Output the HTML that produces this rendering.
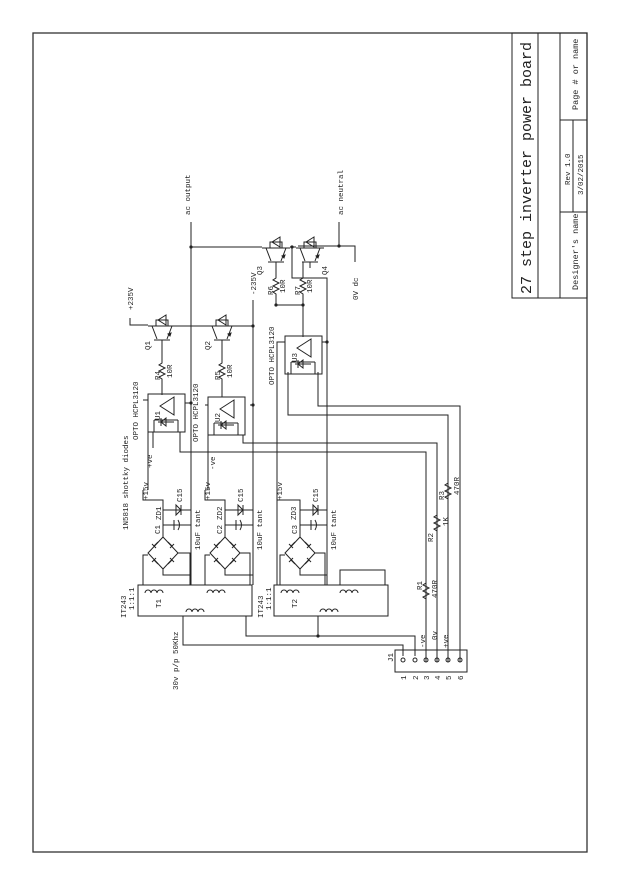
<!DOCTYPE html>
<html><head><meta charset="utf-8"><style>
html,body{margin:0;padding:0;background:#fff;}
svg{display:block;}
text{font-family:"Liberation Mono",monospace;fill:#222;}
</style></head><body>
<svg width="638" height="877" viewBox="0 0 638 877" xmlns="http://www.w3.org/2000/svg">
<defs>
<g id="igbt" fill="none" stroke="#222" stroke-width="1">
<path d="M0 8H28M8 8V2H20V8"/>
<path d="M10 2L18 -3V7Z"/>
<path d="M18 -2V6"/>
<path d="M6 22H22M4 8L9 21M24 8L19 21M14 22V28"/>
<path d="M20 16l3 -1l-1 3z" fill="#222"/>
</g>
<g id="res" fill="none" stroke="#222" stroke-width="1">
<path d="M0 0V3L-3 5L3 8L-3 11L3 14L-3 17L0 19V22"/>
</g>
<g id="opto" fill="none" stroke="#222" stroke-width="1">
<rect x="0" y="0" width="37" height="38"/>
<path d="M12 12L26 3L26 21Z"/>
<path d="M10 28H26M18 24l-5 4l5 4zM13 24V32"/>
<path d="M6 26V38M30 26V38M6 26H30"/>
</g>
<g id="bridge" fill="none" stroke="#222" stroke-width="1">
<path d="M0 -16L-15 0L0 16L15 0Z"/>
<path d="M-9 -7l4 -4M-7 -5l-4 -4M9 -7l-4 -4M7 -5l4 -4M-9 7l4 4M-7 5l-4 4M9 7l-4 4M7 5l4 4"/>
</g>
<g id="coil" fill="none" stroke="#222" stroke-width="1">
<path d="M0 0a3 3 0 0 1 6 0a3 3 0 0 1 6 0a3 3 0 0 1 6 0"/>
</g>
</defs>

<rect x="33" y="33" width="554" height="819" fill="none" stroke="#333" stroke-width="1.3"/>

<g fill="none" stroke="#222" stroke-width="1">
<rect x="512" y="33" width="75" height="265"/>
<line x1="538" y1="33" x2="538" y2="298"/>
<line x1="560" y1="33" x2="560" y2="298"/>
<line x1="560" y1="120" x2="587" y2="120"/>
<line x1="560" y1="212" x2="587" y2="212"/>
<line x1="573" y1="120" x2="573" y2="212"/>
</g>
<text transform="translate(531,294) rotate(-90)" font-size="15">27 step inverter power board</text>
<text transform="translate(578,290) rotate(-90)" font-size="8.5">Designer's name</text>
<text transform="translate(570,185) rotate(-90)" font-size="7.5">Rev 1.0</text>
<text transform="translate(583,195) rotate(-90)" font-size="7.5">3/02/2015</text>
<text transform="translate(578,110) rotate(-90)" font-size="8.5">Page # or name</text>

<g fill="none" stroke="#222" stroke-width="1">
<path d="M191 222V585"/>
<path d="M191 247H262"/>
<path d="M339 222V246H298"/>
<path d="M339 246H355V262"/>
<path d="M130 318V325H148"/>
<path d="M176 326H208M236 326H253V585"/>
<path d="M253 300V585"/>
<path d="M290 247H296M292 247V278H327V585"/>
<path d="M162 345V360M162 382V395"/>
<path d="M222 345V360M222 382V397"/>
<path d="M276 262V275M276 297V305H303M303 262V275M303 297V337"/>
<path d="M185 403H191M250 405H253M143 400H148V490M205 405H208V490"/>
<path d="M322 342H327M285 342H277V585"/>
<path d="M318 372V406H460V662"/>
<path d="M288 372V415H448V662"/>
<path d="M243 435V443H437V662"/>
<path d="M180 432V452H426V662"/>
<path d="M153 432V448"/>
<rect x="395" y="650" width="72" height="22"/>
<path d="M183 616V645H403V656M246 616V636H415V656"/>
<path d="M318 616V636"/>
<rect x="138" y="585" width="114" height="31"/>
<rect x="274" y="585" width="114" height="31"/>
<path d="M143 585V555H148M178 553H190V585M205 585V555H210M240 553H250V585"/>
<path d="M280 585V555H285M315 553H325V585M340 585V570H385V585"/>
<path d="M143 490V500H163V537M205 490V500H225V537M277 490V500H300V537"/>
<path d="M191 500V510M253 500V510M327 500V510"/>
<path d="M163 510H191M163 525H191M225 510H253M225 525H253M300 510H327M300 525H327"/>
<path d="M163 569V575H190M225 569V575H253M300 569V575H327"/>
<path d="M176 505l5 5l-5 5zM181 505V515"/>
<path d="M238 505l5 5l-5 5zM243 505V515"/>
<path d="M313 505l5 5l-5 5zM318 505V515"/>
<path d="M174 520V530M178 520q3 5 0 10M236 520V530M240 520q3 5 0 10M311 520V530M315 520q3 5 0 10"/>
</g>
<g fill="#222">
<circle cx="191" cy="247" r="1.6"/><circle cx="339" cy="246" r="1.6"/><circle cx="292" cy="247" r="1.6"/>
<circle cx="253" cy="326" r="1.6"/><circle cx="276" cy="305" r="1.6"/><circle cx="303" cy="305" r="1.6"/>
<circle cx="191" cy="403" r="1.6"/><circle cx="253" cy="405" r="1.6"/><circle cx="327" cy="342" r="1.6"/>
<circle cx="318" cy="636" r="1.6"/>
</g>
<g fill="none" stroke="#222"><circle cx="403" cy="660" r="2"/><circle cx="415" cy="660" r="2"/><circle cx="426" cy="660" r="2"/><circle cx="437" cy="660" r="2"/><circle cx="448" cy="660" r="2"/><circle cx="460" cy="660" r="2"/></g>

<use href="#igbt" x="148" y="318"/>
<use href="#igbt" x="208" y="318"/>
<use href="#igbt" x="262" y="240"/>
<use href="#igbt" x="296" y="240"/>
<use href="#res" x="162" y="360"/>
<use href="#res" x="222" y="360"/>
<use href="#res" x="276" y="275"/>
<use href="#res" x="303" y="275"/>
<use href="#opto" x="148" y="394"/>
<use href="#opto" x="208" y="397"/>
<use href="#opto" x="285" y="336"/>
<use href="#bridge" x="163" y="553"/>
<use href="#bridge" x="225" y="553"/>
<use href="#bridge" x="300" y="553"/>
<use href="#coil" x="145" y="593"/><use href="#coil" x="207" y="593"/>
<use href="#coil" x="281" y="593"/><use href="#coil" x="340" y="593"/>
<use href="#coil" x="186" y="612"/><use href="#coil" x="320" y="612"/>
<use href="#res" x="426" y="580"/>
<use href="#res" x="437" y="512"/>
<use href="#res" x="448" y="480"/>

<g font-size="7.5">
<text transform="translate(190,215) rotate(-90)">ac output</text>
<text transform="translate(343,215) rotate(-90)">ac neutral</text>
<text transform="translate(133,310) rotate(-90)">+235V</text>
<text transform="translate(256,295) rotate(-90)">-235V</text>
<text transform="translate(358,300) rotate(-90)">0V dc</text>
<text transform="translate(150,350) rotate(-90)">Q1</text>
<text transform="translate(210,350) rotate(-90)">Q2</text>
<text transform="translate(262,275) rotate(-90)">Q3</text>
<text transform="translate(327,275) rotate(-90)">Q4</text>
<text transform="translate(160,380) rotate(-90)">R4</text><text transform="translate(172,378) rotate(-90)">10R</text>
<text transform="translate(220,380) rotate(-90)">R5</text><text transform="translate(232,378) rotate(-90)">10R</text>
<text transform="translate(273,295) rotate(-90)">R6</text><text transform="translate(285,293) rotate(-90)">10R</text>
<text transform="translate(300,295) rotate(-90)">R7</text><text transform="translate(312,293) rotate(-90)">10R</text>
<text transform="translate(138,440) rotate(-90)">OPTO HCPL3120</text>
<text transform="translate(198,442) rotate(-90)">OPTO HCPL3120</text>
<text transform="translate(274,385) rotate(-90)">OPTO HCPL3120</text>
<text transform="translate(160,420) rotate(-90)">U1</text>
<text transform="translate(220,422) rotate(-90)">U2</text>
<text transform="translate(297,362) rotate(-90)">U3</text>
<text transform="translate(152,468) rotate(-90)">+ve</text>
<text transform="translate(215,470) rotate(-90)">-ve</text>
<text transform="translate(128,530) rotate(-90)">1N5818 shottky diodes</text>
<text transform="translate(148,500) rotate(-90)">+15v</text>
<text transform="translate(210,500) rotate(-90)">+15v</text>
<text transform="translate(282,500) rotate(-90)">+15v</text>
<text transform="translate(161,520) rotate(-90)">ZD1</text><text transform="translate(182,502) rotate(-90)">C15</text>
<text transform="translate(222,520) rotate(-90)">ZD2</text><text transform="translate(243,502) rotate(-90)">C15</text>
<text transform="translate(296,520) rotate(-90)">ZD3</text><text transform="translate(318,502) rotate(-90)">C15</text>
<text transform="translate(160,534) rotate(-90)">C1</text><text transform="translate(222,534) rotate(-90)">C2</text><text transform="translate(297,534) rotate(-90)">C3</text>
<text transform="translate(200,550) rotate(-90)">10uF tant</text>
<text transform="translate(262,550) rotate(-90)">10uF tant</text>
<text transform="translate(336,550) rotate(-90)">10uF tant</text>
<text transform="translate(126,618) rotate(-90)">IT243</text>
<text transform="translate(134,610) rotate(-90)">1:1:1</text>
<text transform="translate(263,618) rotate(-90)">IT243</text>
<text transform="translate(271,610) rotate(-90)">1:1:1</text>
<text transform="translate(161,608) rotate(-90)">T1</text>
<text transform="translate(297,608) rotate(-90)">T2</text>
<text transform="translate(178,690) rotate(-90)">30v p/p 50Khz</text>
<text transform="translate(393,662) rotate(-90)">J1</text>
<text transform="translate(422,590) rotate(-90)">R1</text><text transform="translate(437,598) rotate(-90)">470R</text>
<text transform="translate(433,542) rotate(-90)">R2</text><text transform="translate(448,526) rotate(-90)">1K</text>
<text transform="translate(444,500) rotate(-90)">R3</text><text transform="translate(459,495) rotate(-90)">470R</text>
<text transform="translate(425,648) rotate(-90)">-ve</text>
<text transform="translate(437,640) rotate(-90)">0v</text>
<text transform="translate(448,648) rotate(-90)">+ve</text>
<text transform="translate(406,680) rotate(-90)">1</text><text transform="translate(418,680) rotate(-90)">2</text><text transform="translate(429,680) rotate(-90)">3</text><text transform="translate(440,680) rotate(-90)">4</text><text transform="translate(451,680) rotate(-90)">5</text><text transform="translate(463,680) rotate(-90)">6</text>
</g>
</svg>
</body></html>
